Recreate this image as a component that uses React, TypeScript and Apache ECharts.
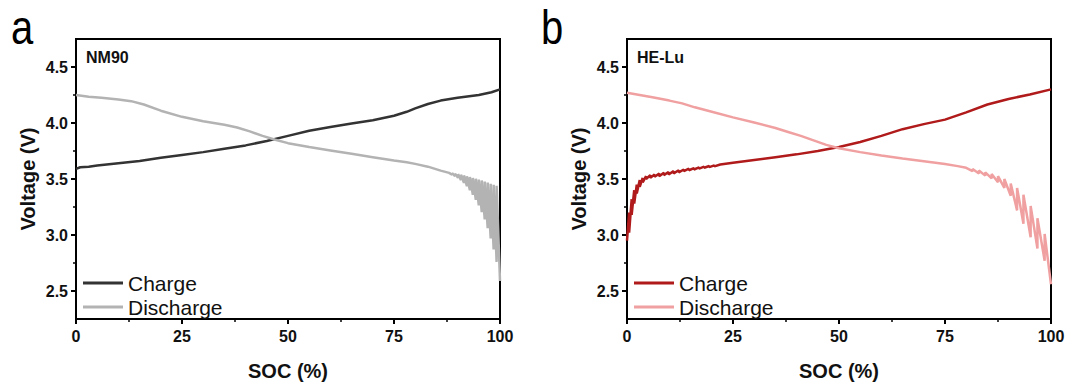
import React, { useEffect, useRef } from "react";
import * as echarts from "echarts";

// ---------- data ----------
const panelLetters = ["a", "b"];
const sampleNames = ["NM90", "HE-Lu"];
const curveNames = ["Charge", "Discharge"];
const voltageTicks = [2.5, 3.0, 3.5, 4.0, 4.5];
const voltageMinorTicks = [2.75, 3.25, 3.75, 4.25];

// [SOC %, Voltage V]
const nm90Charge = [
  [0, 3.59], [1, 3.605], [3, 3.61], [5, 3.62], [10, 3.64], [15, 3.66], [20, 3.69],
  [25, 3.715], [30, 3.74], [35, 3.77], [40, 3.8], [45, 3.84], [50, 3.885], [55, 3.93],
  [60, 3.965], [65, 3.995], [70, 4.025], [75, 4.065], [78, 4.1], [80, 4.13], [83, 4.17],
  [86, 4.2], [90, 4.225], [95, 4.25], [98, 4.275], [100, 4.3],
];

const nm90Discharge = [
  [0, 4.25], [3, 4.235], [6, 4.225], [10, 4.21], [13, 4.195], [16, 4.165], [20, 4.11],
  [25, 4.055], [30, 4.015], [35, 3.985], [38, 3.96], [41, 3.925], [44, 3.885], [47, 3.85],
  [50, 3.82], [55, 3.785], [60, 3.755], [65, 3.725], [70, 3.695], [75, 3.665], [78, 3.65],
  [80, 3.635], [83, 3.61], [86, 3.575], [88, 3.555],
  [88.7, 3.538], [88.7, 3.552], [89.4, 3.525], [89.4, 3.548], [90.1, 3.51], [90.1, 3.543],
  [90.8, 3.49], [90.8, 3.538], [91.5, 3.465], [91.5, 3.532], [92.2, 3.435], [92.2, 3.525],
  [92.9, 3.4], [92.9, 3.518], [93.6, 3.36], [93.6, 3.51], [94.3, 3.315], [94.3, 3.503],
  [95.0, 3.265], [95.0, 3.495], [95.7, 3.205], [95.7, 3.487], [96.4, 3.14], [96.4, 3.478],
  [97.1, 3.06], [97.1, 3.468], [97.8, 2.97], [97.8, 3.458], [98.5, 2.87], [98.5, 3.448],
  [99.2, 2.76], [99.2, 3.44], [100, 2.59],
];

const heluCharge = [
  [0, 2.95], [0.5, 3.2], [0.5, 3.02], [1.1, 3.32], [1.1, 3.18], [1.7, 3.4], [1.7, 3.28],
  [2.3, 3.45], [2.3, 3.37], [3.0, 3.49], [3.0, 3.43], [3.7, 3.51], [3.7, 3.47],
  [4.5, 3.525], [4.5, 3.5], [5.5, 3.535], [5.5, 3.51], [6.5, 3.54], [6.5, 3.52],
  [7.6, 3.548], [7.6, 3.525], [8.7, 3.555], [8.7, 3.535], [9.8, 3.562], [9.8, 3.54],
  [11, 3.57], [11, 3.55], [12.2, 3.578], [12.2, 3.56], [13.4, 3.585], [13.4, 3.57],
  [14.6, 3.592], [14.6, 3.578], [15.8, 3.598], [15.8, 3.585], [17, 3.604], [17, 3.592],
  [18.2, 3.61], [18.2, 3.6], [19.4, 3.616], [19.4, 3.606], [20.6, 3.622], [20.6, 3.613],
  [22, 3.63], [25, 3.645], [30, 3.67], [35, 3.695], [40, 3.72], [45, 3.75], [50, 3.785],
  [55, 3.83], [60, 3.885], [65, 3.945], [70, 3.99], [75, 4.03], [80, 4.095], [85, 4.165],
  [90, 4.215], [95, 4.255], [100, 4.3],
];

const heluDischarge = [
  [0, 4.27], [3, 4.25], [6, 4.23], [10, 4.2], [13, 4.175], [16, 4.14], [20, 4.1],
  [25, 4.05], [30, 4.005], [35, 3.955], [38, 3.92], [41, 3.885], [44, 3.845], [47, 3.805],
  [50, 3.775], [55, 3.74], [60, 3.71], [65, 3.683], [70, 3.658], [75, 3.633], [78, 3.615],
  [80, 3.6],
  [81.5, 3.57], [81.5, 3.59], [83, 3.55], [83, 3.575], [84.5, 3.53], [84.5, 3.56],
  [86, 3.505], [86, 3.545], [87.5, 3.47], [87.5, 3.525], [89, 3.42], [89, 3.5],
  [90.5, 3.35], [90.5, 3.46], [92, 3.22], [92, 3.42], [93.5, 3.1], [93.5, 3.36],
  [95.2, 2.98], [95.2, 3.26], [96.8, 2.88], [96.8, 3.15], [98.5, 2.77], [98.5, 3.01],
  [100, 2.56],
];

const panelData = [
  [nm90Charge, nm90Discharge],
  [heluCharge, heluDischarge],
];
const panelColors = [
  ["#333333", "#b3b3b3"],
  ["#b01a1a", "#f0a0a0"],
];

const FONT = "Arial, 'Liberation Sans', Helvetica, sans-serif";

export default function App() {
  const ref = useRef<HTMLDivElement>(null);

  useEffect(() => {
    if (!ref.current) return;
    const chart = echarts.init(ref.current, null, { renderer: "svg" });

    const gridLefts = [76, 627];
    const gridW = 424;
    const gridTop = 39;
    const gridH = 280;

    const grids = gridLefts.map((l) => ({
      left: l,
      top: gridTop,
      width: gridW,
      height: gridH,
      show: true,
      borderColor: "#000",
      borderWidth: 2,
      backgroundColor: "transparent",
    }));

    const xAxes = gridLefts.map((_, i) => ({
      type: "value",
      gridIndex: i,
      min: 0,
      max: 100,
      interval: 25,
      name: "SOC (%)",
      nameLocation: "middle",
      nameGap: 42,
      nameTextStyle: { fontFamily: FONT, fontSize: 20, fontWeight: "bold", color: "#111" },
      axisLine: { show: true, lineStyle: { color: "#000", width: 2 } },
      axisTick: { show: true, inside: false, length: 5, lineStyle: { color: "#000", width: 2 } },
      minorTick: { show: true, splitNumber: 2, length: 3, lineStyle: { color: "#000", width: 1.5 } },
      splitLine: { show: false },
      minorSplitLine: { show: false },
      axisLabel: {
        margin: 9,
        fontFamily: FONT,
        fontSize: 16,
        fontWeight: "bold",
        color: "#111",
      },
    }));

    const yMain = gridLefts.map((_, i) => ({
      type: "value",
      gridIndex: i,
      min: 2.25,
      max: 4.75,
      name: "Voltage (V)",
      nameLocation: "middle",
      nameRotate: 90,
      nameGap: 38,
      nameTextStyle: { fontFamily: FONT, fontSize: 20, fontWeight: "bold", color: "#111" },
      axisLine: { show: true, lineStyle: { color: "#000", width: 2 } },
      axisTick: {
        show: true,
        inside: false,
        length: 5,
        customValues: voltageTicks,
        lineStyle: { color: "#000", width: 2 },
      },
      splitLine: { show: false },
      axisLabel: {
        customValues: voltageTicks,
        formatter: (v: number) => v.toFixed(1),
        margin: 8,
        fontFamily: FONT,
        fontSize: 16,
        fontWeight: "bold",
        color: "#111",
      },
    }));

    const yMinor = gridLefts.map((_, i) => ({
      type: "value",
      gridIndex: i,
      min: 2.25,
      max: 4.75,
      position: "left",
      axisLine: { show: false },
      axisTick: {
        show: true,
        inside: false,
        length: 3,
        customValues: voltageMinorTicks,
        lineStyle: { color: "#000", width: 1.5 },
      },
      axisLabel: { show: false },
      splitLine: { show: false },
    }));

    const series: any[] = [];
    const legends: any[] = [];
    panelData.forEach((pair, p) => {
      pair.forEach((data, k) => {
        series.push({
          name: panelLetters[p] + "-" + curveNames[k],
          type: "line",
          xAxisIndex: p,
          yAxisIndex: p,
          data,
          showSymbol: false,
          symbol: "none",
          lineStyle: { color: panelColors[p][k], width: 2.5 },
          itemStyle: { color: panelColors[p][k] },
          z: 3 + k,
        });
      });
      legends.push({
        orient: "vertical",
        left: gridLefts[p] + 7,
        top: 272,
        padding: 0,
        itemGap: 2,
        itemWidth: 40,
        itemHeight: 3,
        icon: "rect",
        data: curveNames.map((n) => panelLetters[p] + "-" + n),
        formatter: (n: string) => n.slice(2),
        textStyle: { fontFamily: FONT, fontSize: 21, color: "#111", lineHeight: 22 },
      });
    });

    const graphics: any[] = [];
    panelLetters.forEach((letter, p) => {
      graphics.push({
        type: "text",
        x: p === 0 ? 11 : 541,
        y: 27,
        scaleY: 1.2,
        style: {
          text: letter,
          fontFamily: FONT,
          fontSize: 40,
          lineHeight: 30,
          fill: "#000",
          verticalAlign: "middle",
        },
      });
      graphics.push({
        type: "text",
        x: gridLefts[p] + 10,
        y: 57,
        style: {
          text: sampleNames[p],
          fontFamily: FONT,
          fontSize: 16,
          fontWeight: "bold",
          fill: "#111",
          verticalAlign: "middle",
        },
      });
    });

    chart.setOption({
      animation: false,
      grid: grids,
      xAxis: xAxes,
      yAxis: [...yMain, ...yMinor],
      legend: legends,
      series,
      graphic: graphics,
    });

    return () => chart.dispose();
  }, []);

  return (
    <div
      ref={ref}
      style={{ position: "absolute", left: 0, top: 0, width: 1070, height: 387, background: "#fff" }}
    />
  );
}
